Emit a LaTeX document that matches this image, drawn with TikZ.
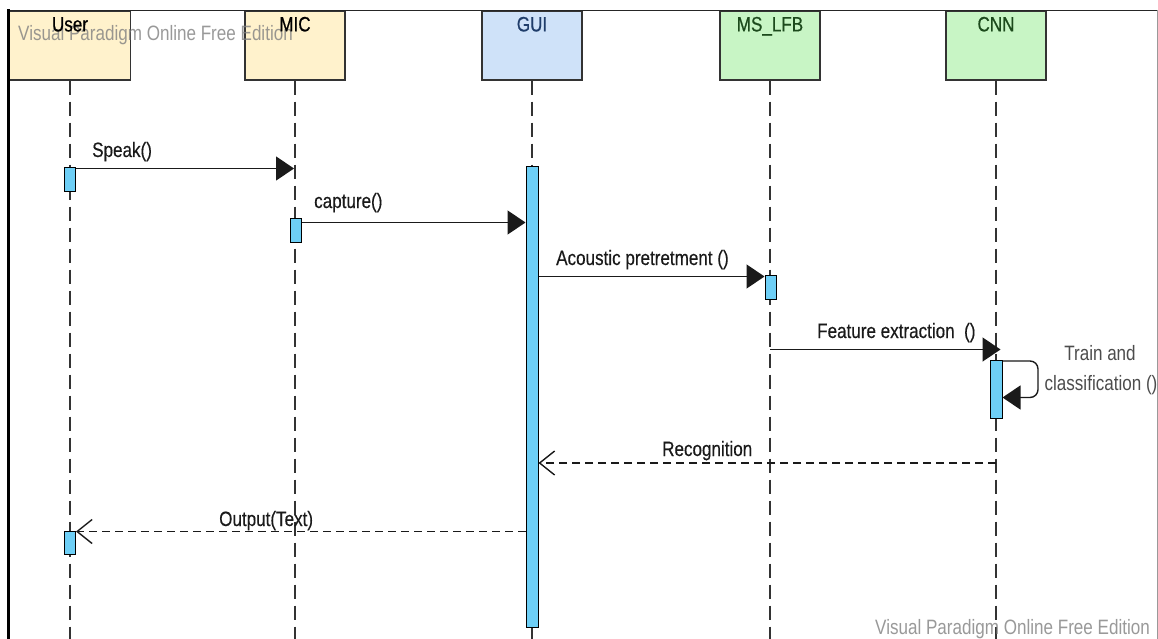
\documentclass[tikz,border=0pt]{standalone}
\usepackage{fontspec}
\newfontfamily\vp{Liberation Sans}[FakeStretch=0.82]
\newfontfamily\vpb{Liberation Sans}[FakeStretch=0.82,FakeBold=0.6]
\newfontfamily\vpm{Liberation Sans}[FakeStretch=0.82,FakeBold=0.3]
\usetikzlibrary{arrows.meta,calc}
\definecolor{yel}{HTML}{FFF2CC}
\definecolor{blu}{HTML}{CFE2F9}
\definecolor{grn}{HTML}{C8F5C5}
\definecolor{actb}{HTML}{6ECFF6}
\definecolor{boxline}{HTML}{333333}
\definecolor{guitxt}{HTML}{1F3D6B}
\definecolor{grntxt}{HTML}{1C4A1C}
\definecolor{msgc}{HTML}{1A1A1A}
\definecolor{wmc}{HTML}{808080}
\begin{document}
\begin{tikzpicture}[x=1pt,y=-1pt,
  font=\vp\fontsize{20.8}{24}\selectfont,
  box/.style={draw=boxline, line width=1.2pt, inner sep=0pt, minimum height=69pt, minimum width=100pt},
  boxlbl/.style={anchor=base, inner sep=0pt, font=\vpb\fontsize{20.8}{24}\selectfont},
  life/.style={draw=boxline, line width=1.3pt, dash pattern=on 14pt off 7pt},
  act/.style={draw=black, fill=actb, line width=1pt, inner sep=0pt, minimum width=11pt},
  msg/.style={draw=msgc, line width=1.4pt, -{Triangle[length=18pt,width=24pt]}},
  ret/.style={draw=msgc, line width=1.4pt, dash pattern=on 8pt off 5pt, -{Straight Barb[length=15pt,width=24pt,line width=1.4pt]}},
  mlbl/.style={anchor=base west, inner sep=0pt, text=msgc, font=\vpm\fontsize{20.8}{24}\selectfont},
  wm/.style={anchor=base west, inner sep=0pt, text=wmc, opacity=0.8}
]
\clip (0,0) rectangle (1158,639);
\fill[white] (0,0) rectangle (1158,639);

% head boxes
\node[box, fill=yel, minimum width=121pt] (user) at (70,45.5) {};
\node[box, fill=yel] (mic) at (295,45.5) {};
\node[box, fill=blu] (gui) at (532,45.5) {};
\node[box, fill=grn] (ms) at (770,45.5) {};
\node[box, fill=grn] (cnn) at (996,45.5) {};

% lifelines
\draw[life] (user.south) -- (user.south |- 0,639);
\draw[life] (mic.south) -- (mic.south |- 0,639);
\draw[life] (gui.south) -- (gui.south |- 0,639);
\draw[life] (ms.south) -- (ms.south |- 0,639);
\draw[life] (cnn.south) -- (cnn.south |- 0,639);

% watermark (top)
\node[wm] (wm1) at (18,41) {Visual Paradigm Online Free Edition};

% box labels
\node[boxlbl] (userT) at ($(user.north)+(0,21)$) {User};
\node[boxlbl] (micT) at ($(mic.north)+(0,21)$) {MIC};
\node[boxlbl, text=guitxt] (guiT) at ($(gui.north)+(0,21)$) {GUI};
\node[boxlbl, text=grntxt] (msT) at ($(ms.north)+(0,21)$) {MS\_LFB};
\node[boxlbl, text=grntxt] (cnnT) at ($(cnn.north)+(0,21)$) {CNN};

% activations
\node[act, minimum height=23pt] (a1) at (70,179.5) {};
\node[act, minimum height=24pt] (a2) at (295.5,230) {};
\node[act, minimum width=12pt, minimum height=460pt] (g) at (532,397) {};
\node[act, minimum height=24pt] (m) at (770.5,287) {};
\node[act, minimum width=12pt, minimum height=58pt] (c) at (996,389) {};
\node[act, minimum height=23pt] (a3) at (70,542.5) {};

% messages
\coordinate (c0) at ($(a1.north east)+(0,1)$);
\draw[msg] (c0) -- ($(c0 -| mic.south)+(-1,0)$);
\coordinate (c1) at ($(a2.north east)+(0,5)$);
\draw[msg] (c1) -- (c1 -| g.west);
\coordinate (c2) at ($(g.east |- m.north)+(0,2)$);
\draw[msg] (c2) -- (c2 -| m.west);
\coordinate (c3) at ($(ms.south |- c.north)+(0,-10)$);
\draw[msg] (c3) -- ($(c3 -| c.east)+(-2,0)$);
\draw[msg, rounded corners=8pt] ($(c.north east)+(0,1.5)$) -- ++(35.5,0) -- ++(0,36.5) -- ($(c.north east)+(0,38)$);
\coordinate (c4) at (cnn.south |- 0,463);
\draw[ret] (c4) -- (c4 -| g.east);
\coordinate (c5) at ($(a3.north east)+(0,1)$);
\draw[ret] (c5 -| g.west) -- (c5);

% message labels
\node[mlbl] (l0) at (92,157) {Speak()};
\node[mlbl] (l1) at (314,208) {capture()};
\node[mlbl] (l2) at (556,265) {Acoustic pretretment ()};
\node[mlbl] (l3) at (817,338) {Feature extraction\ \ ()};
\node[anchor=base, inner sep=0pt, text=black!70] (l4a) at (1100,360) {Train and};
\node[anchor=base, inner sep=0pt, text=black!70] (l4b) at (1101,390) {classification ()};
\node[mlbl] (l5) at (662,456) {Recognition};
\node[mlbl] (l6) at (219,526) {Output(Text)};

% watermark (bottom)
\node[wm] (wm2) at (875,634) {Visual Paradigm Online Free Edition};

% frame
\draw[line width=1.5pt, black!85] (8,10.5) -- (1157.5,10.5);
\draw[line width=2.5pt, black] (8.5,9.5) -- (8.5,639);
\draw[line width=1pt, black!40] (1157,10.5) -- (1157,639);
\end{tikzpicture}
\end{document}
